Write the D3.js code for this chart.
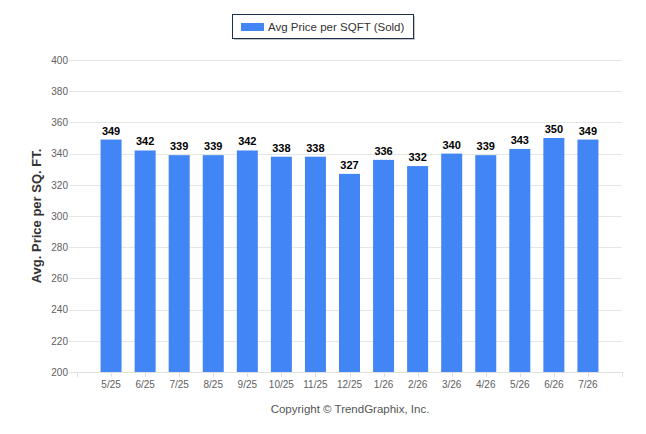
<!DOCTYPE html>
<html>
<head>
<meta charset="utf-8">
<script src="https://cdn.jsdelivr.net/npm/d3@7"></script>
<style>
  body { margin: 0; background: #fff; }
</style>
</head>
<body>
<div id="chart"></div>
<script>
// donnees
const MONTHS = ['5/25', '6/25', '7/25', '8/25', '9/25', '10/25', '11/25', '12/25', '1/26', '2/26', '3/26', '4/26', '5/26', '6/26', '7/26']
const PRICES = [349, 342, 339, 339, 342, 338, 338, 327, 336, 332, 340, 339, 343, 350, 349]
const Y_TICKS = [200, 220, 240, 260, 280, 300, 320, 340, 360, 380, 400]
const SERIES_NAME = 'Avg Price per SQFT (Sold)'

const WIDTH = 646
const HEIGHT = 434
const LEFT = 69
const RIGHT = 622
const TOP = 60
const BOTTOM = 372
const BAR_WIDTH = 21
const FONT = '"Liberation Sans", Arial, sans-serif'

const svg = d3.select('#chart').append('svg')
    .attr('width', WIDTH).attr('height', HEIGHT)

const x = d3.scalePoint()
    .domain(MONTHS)
    .range([77, RIGHT])
    .padding(1)

const y = d3.scaleLinear()
    .domain([200, 400])
    .range([BOTTOM, TOP])

// grille horizontale
svg.append('g')
    .selectAll('line')
    .data(Y_TICKS.slice(1))
    .enter()
    .append('line')
    .attr('x1', LEFT).attr('x2', RIGHT)
    .attr('y1', d => Math.round(y(d)) + 0.5)
    .attr('y2', d => Math.round(y(d)) + 0.5)
    .attr('stroke', '#e6e6e6')

// axe Y (textes seulement)
const axisY = d3.axisLeft(y).tickValues(Y_TICKS).tickSize(0).tickPadding(1)
svg.append('g')
    .attr('transform', `translate(${LEFT}, 0)`)
    .call(axisY)
    .call(g => g.select('.domain').remove())
    .call(g => g.selectAll('text')
        .attr('font-family', FONT)
        .attr('font-size', 10)
        .attr('fill', '#606060'))

// batons
svg.append('g')
    .selectAll('rect')
    .data(PRICES)
    .enter()
    .append('rect')
    .attr('x', (d, i) => x(MONTHS[i]) - BAR_WIDTH / 2)
    .attr('width', BAR_WIDTH)
    .attr('y', d => y(d))
    .attr('height', d => BOTTOM - y(d))
    .attr('fill', '#4285F4')

// valeurs au dessus
svg.append('g')
    .selectAll('text')
    .data(PRICES)
    .enter()
    .append('text')
    .attr('x', (d, i) => x(MONTHS[i]))
    .attr('y', d => y(d) - 5)
    .attr('text-anchor', 'middle')
    .attr('font-family', FONT)
    .attr('font-size', 11)
    .attr('font-weight', 'bold')
    .attr('fill', '#000')
    .text(d => d)

// axe X
const tickPos = [77].concat(MONTHS.map(m => x(m)), [RIGHT])
const xAxis = svg.append('g')
xAxis.append('line')
    .attr('x1', LEFT).attr('x2', RIGHT)
    .attr('y1', BOTTOM + 0.5).attr('y2', BOTTOM + 0.5)
    .attr('stroke', '#e0e0e0')
xAxis.selectAll('.tick')
    .data(tickPos)
    .enter()
    .append('line')
    .attr('x1', d => Math.round(d) + 0.5).attr('x2', d => Math.round(d) + 0.5)
    .attr('y1', BOTTOM).attr('y2', BOTTOM + 5)
    .attr('stroke', '#e0e0e0')
xAxis.selectAll('text')
    .data(MONTHS)
    .enter()
    .append('text')
    .attr('x', d => x(d))
    .attr('y', BOTTOM + 16)
    .attr('text-anchor', 'middle')
    .attr('font-family', FONT)
    .attr('font-size', 10)
    .attr('fill', '#606060')
    .text(d => d)

// titre axe Y
svg.append('text')
    .attr('transform', `translate(41, ${(TOP + BOTTOM) / 2}) rotate(-90)`)
    .attr('text-anchor', 'middle')
    .attr('font-family', FONT)
    .attr('font-size', 13)
    .attr('font-weight', 'bold')
    .attr('fill', '#333')
    .text('Avg. Price per SQ. FT.')

// legende
const legend = svg.append('g')
legend.append('rect')
    .attr('x', 234).attr('y', 16).attr('width', 181).attr('height', 24)
    .attr('fill', '#888').attr('opacity', 0.5)
legend.append('rect')
    .attr('x', 232.5).attr('y', 14.5).attr('width', 181).attr('height', 24)
    .attr('fill', '#fff').attr('stroke', '#1c2f4f')
legend.append('rect')
    .attr('x', 241).attr('y', 23).attr('width', 23).attr('height', 8)
    .attr('fill', '#4285F4')
legend.append('text')
    .attr('x', 268).attr('y', 31)
    .attr('font-family', FONT)
    .attr('font-size', 11.5)
    .attr('fill', '#333')
    .text(SERIES_NAME)

// copyright
svg.append('text')
    .attr('x', 350).attr('y', 413)
    .attr('text-anchor', 'middle')
    .attr('font-family', FONT)
    .attr('font-size', 11.5)
    .attr('fill', '#555')
    .text('Copyright \u00A9 TrendGraphix, Inc.')
</script>
</body>
</html>
